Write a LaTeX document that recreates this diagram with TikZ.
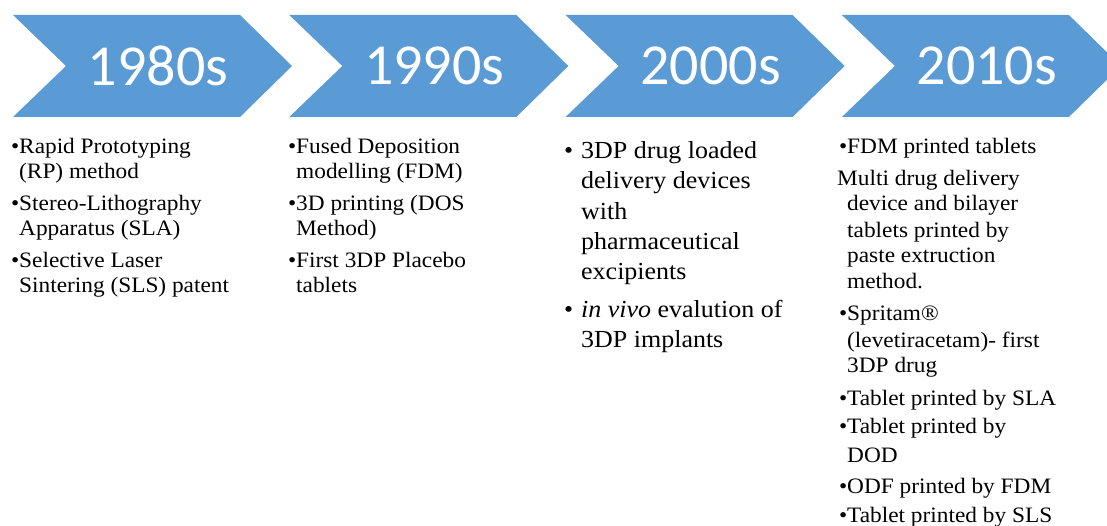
\documentclass[tikz,border=0pt]{standalone}
\usepackage{fontspec}
\setmainfont{Liberation Serif}[FakeStretch=1.06]
\newfontfamily\yearfont{Carlito}
\definecolor{chevblue}{RGB}{91,155,213}

\tikzset{
  chevron/.style={fill=chevblue, draw=none},
  yearlabel/.style={text=white, inner sep=0pt, font=\yearfont\fontsize{58}{60}\selectfont},
  itemtext/.style={anchor=base west, align=left, inner sep=0pt, font=\fontsize{22}{25.5}\selectfont},
  bigitemtext/.style={itemtext, font=\fontsize{24.5}{30}\selectfont}
}

\begin{document}
\begin{tikzpicture}[x=1pt,y=-1pt]
\useasboundingbox (0,0) rectangle (1107,526);

\foreach \yr [count=\i from 0] in {1980s,1990s,2000s,2010s} {
  \pgfmathsetmacro\L{13+276.3*\i}
  \fill[chevron] (\L,15) -- ++(227,0) -- ++(52,51) -- ++(-52,51) -- ++(-227,0) -- ++(53,-51) -- cycle;
  \node[yearlabel] (y\yr) at (\L+145,66) {\yr};
}

% lists hang from the baseline of their last line
\node[itemtext] (list80) at (19,293) {\llap{•}Rapid Prototyping\\
(RP) method\\[6pt]
\llap{•}Stereo-Lithography\\
Apparatus (SLA)\\[6pt]
\llap{•}Selective Laser\\
Sintering (SLS) patent};

\node[itemtext] (list90) at (296,293) {\llap{•}Fused Deposition\\
modelling (FDM)\\[6pt]
\llap{•}3D printing (DOS\\
Method)\\[6pt]
\llap{•}First 3DP Placebo\\
tablets};

\node[bigitemtext] (list00) at (581,347) {\llap{•\hspace{8pt}}3DP drug loaded\\
delivery devices\\
with\\
pharmaceutical\\
excipients\\[8pt]
\llap{•\hspace{8pt}}\textit{in vivo} evalution of\\
3DP implants};

\node[itemtext, font=\fontsize{22}{26}\selectfont] (list10) at (847,522) {\llap{•}FDM printed tablets\\[6pt]
\hspace*{-10pt}Multi drug delivery\\[-1pt]
device and bilayer\\[1pt]
tablets printed by\\[-1pt]
paste extruction\\
method.\\[6pt]
\llap{•}Spritam®\\[1pt]
(levetiracetam)- first\\[-1pt]
3DP drug\\[7pt]
\llap{•}Tablet printed by SLA\\[2pt]
\llap{•}Tablet printed by\\[3pt]
DOD\\[5pt]
\llap{•}ODF printed by FDM\\[3pt]
\llap{•}Tablet printed by SLS};

\end{tikzpicture}
\end{document}
